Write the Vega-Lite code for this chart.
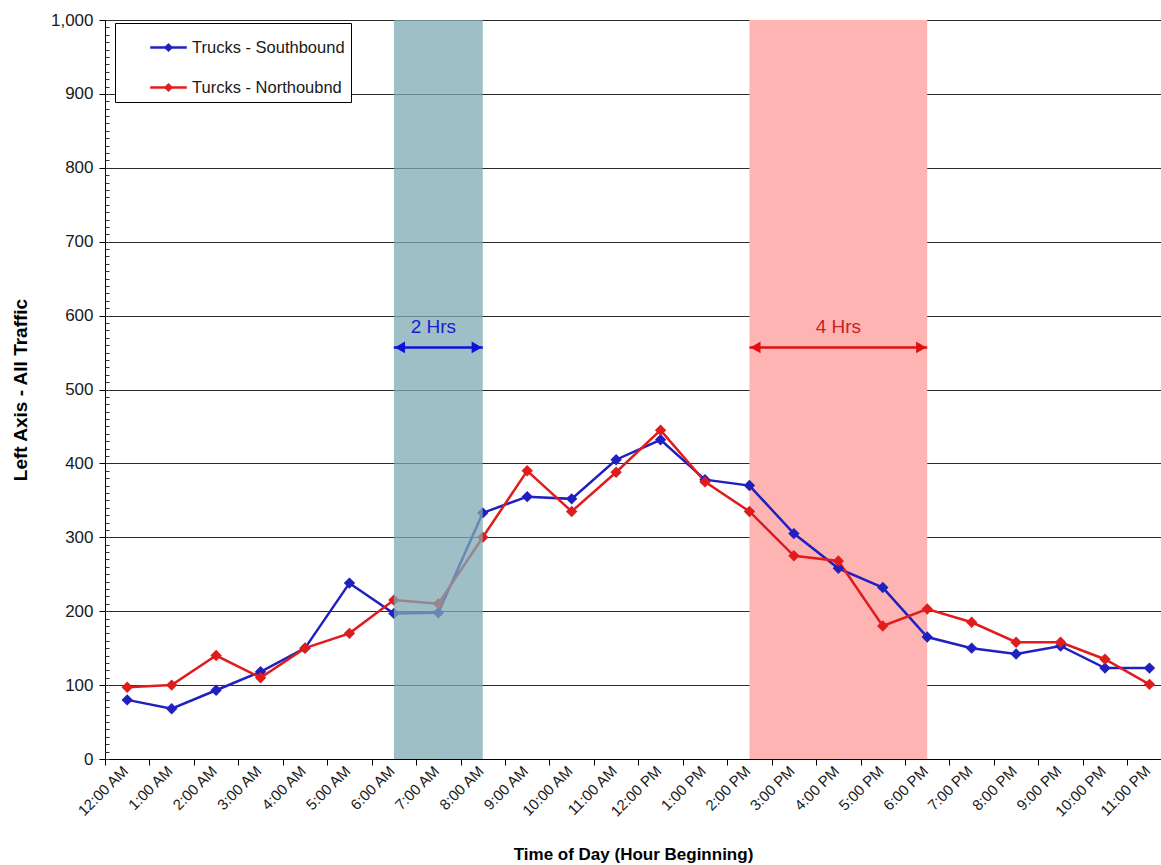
{
  "$schema": "https://vega.github.io/schema/vega-lite/v6.json",
  "width": 1056,
  "height": 739,
  "autosize": {"type": "none"},
  "padding": {"left": 105, "top": 20, "right": 0, "bottom": 106},
  "background": "white",
  "config": {"view": {"stroke": null}, "font": "Liberation Sans"},
  "datasets": {
    "traffic": [
      {"hour": 0, "series": "Trucks - Southbound", "value": 80},
      {"hour": 1, "series": "Trucks - Southbound", "value": 68},
      {"hour": 2, "series": "Trucks - Southbound", "value": 93},
      {"hour": 3, "series": "Trucks - Southbound", "value": 118},
      {"hour": 4, "series": "Trucks - Southbound", "value": 150},
      {"hour": 5, "series": "Trucks - Southbound", "value": 238},
      {"hour": 6, "series": "Trucks - Southbound", "value": 197},
      {"hour": 7, "series": "Trucks - Southbound", "value": 198},
      {"hour": 8, "series": "Trucks - Southbound", "value": 333},
      {"hour": 9, "series": "Trucks - Southbound", "value": 355},
      {"hour": 10, "series": "Trucks - Southbound", "value": 352},
      {"hour": 11, "series": "Trucks - Southbound", "value": 405},
      {"hour": 12, "series": "Trucks - Southbound", "value": 432},
      {"hour": 13, "series": "Trucks - Southbound", "value": 378},
      {"hour": 14, "series": "Trucks - Southbound", "value": 370},
      {"hour": 15, "series": "Trucks - Southbound", "value": 305},
      {"hour": 16, "series": "Trucks - Southbound", "value": 258},
      {"hour": 17, "series": "Trucks - Southbound", "value": 232},
      {"hour": 18, "series": "Trucks - Southbound", "value": 165},
      {"hour": 19, "series": "Trucks - Southbound", "value": 150},
      {"hour": 20, "series": "Trucks - Southbound", "value": 142},
      {"hour": 21, "series": "Trucks - Southbound", "value": 153},
      {"hour": 22, "series": "Trucks - Southbound", "value": 123},
      {"hour": 23, "series": "Trucks - Southbound", "value": 123},
      {"hour": 0, "series": "Turcks - Northoubnd", "value": 97},
      {"hour": 1, "series": "Turcks - Northoubnd", "value": 100},
      {"hour": 2, "series": "Turcks - Northoubnd", "value": 140},
      {"hour": 3, "series": "Turcks - Northoubnd", "value": 110},
      {"hour": 4, "series": "Turcks - Northoubnd", "value": 150},
      {"hour": 5, "series": "Turcks - Northoubnd", "value": 170},
      {"hour": 6, "series": "Turcks - Northoubnd", "value": 215},
      {"hour": 7, "series": "Turcks - Northoubnd", "value": 210},
      {"hour": 8, "series": "Turcks - Northoubnd", "value": 300},
      {"hour": 9, "series": "Turcks - Northoubnd", "value": 390},
      {"hour": 10, "series": "Turcks - Northoubnd", "value": 335},
      {"hour": 11, "series": "Turcks - Northoubnd", "value": 388},
      {"hour": 12, "series": "Turcks - Northoubnd", "value": 445},
      {"hour": 13, "series": "Turcks - Northoubnd", "value": 375},
      {"hour": 14, "series": "Turcks - Northoubnd", "value": 335},
      {"hour": 15, "series": "Turcks - Northoubnd", "value": 275},
      {"hour": 16, "series": "Turcks - Northoubnd", "value": 268},
      {"hour": 17, "series": "Turcks - Northoubnd", "value": 180},
      {"hour": 18, "series": "Turcks - Northoubnd", "value": 203},
      {"hour": 19, "series": "Turcks - Northoubnd", "value": 185},
      {"hour": 20, "series": "Turcks - Northoubnd", "value": 158},
      {"hour": 21, "series": "Turcks - Northoubnd", "value": 158},
      {"hour": 22, "series": "Turcks - Northoubnd", "value": 135},
      {"hour": 23, "series": "Turcks - Northoubnd", "value": 101}
    ],
    "am_band": [{"hour": 6, "hour_end": 8}],
    "pm_band": [{"hour": 14, "hour_end": 18}],
    "am_arrow": [{"hour": 6, "hour_end": 8, "value": 557}],
    "pm_arrow": [{"hour": 14, "hour_end": 18, "value": 557}],
    "am_heads": [{"hour": 6, "value": 557, "end": "left"}, {"hour": 8, "value": 557, "end": "right"}],
    "pm_heads": [{"hour": 14, "value": 557, "end": "left"}, {"hour": 18, "value": 557, "end": "right"}],
    "am_label": [{"hour": 7, "value": 584, "label": "2 Hrs"}],
    "pm_label": [{"hour": 16, "value": 584, "label": "4 Hrs"}]
  },
  "encoding": {
    "x": {
      "field": "hour",
      "type": "quantitative",
      "scale": {"domain": [-0.5, 23.26], "nice": false, "zero": false},
      "axis": {
        "title": "Time of Day (Hour Beginning)",
        "values": [-0.5, 0.5, 1.5, 2.5, 3.5, 4.5, 5.5, 6.5, 7.5, 8.5, 9.5, 10.5, 11.5, 12.5, 13.5, 14.5, 15.5, 16.5, 17.5, 18.5, 19.5, 20.5, 21.5, 22.5],
        "labelExpr": "(datum.value+0.5)==0 ? '12:00 AM' : (datum.value+0.5)<12 ? (datum.value+0.5)+':00 AM' : (datum.value+0.5)==12 ? '12:00 PM' : (datum.value+0.5-12)+':00 PM'",
        "labelAngle": -45,
        "labelAlign": "right",
        "labelBaseline": "middle",
        "labelOffset": 20,
        "labelPadding": 3,
        "labelFontSize": 15,
        "labelColor": "#1a1a1a",
        "labelOverlap": false,
        "labelFlush": false,
        "labelBound": false,
        "grid": false,
        "tickSize": 6,
        "tickColor": "black",
        "domainColor": "black",
        "titleFontSize": 17,
        "titleFontWeight": "bold",
        "titleColor": "black",
        "titlePadding": 27
      }
    }
  },
  "layer": [
    {
      "data": {"name": "pm_band"},
      "mark": {"type": "rect", "color": "#ffb4b4"},
      "encoding": {"x2": {"field": "hour_end"}}
    },
    {
      "data": {"name": "traffic"},
      "mark": {"type": "line", "strokeWidth": 2.5},
      "encoding": {
        "y": {
          "field": "value",
          "type": "quantitative",
          "scale": {"domain": [0, 1000], "nice": false},
          "axis": {
            "title": "Left Axis - All Traffic",
            "values": [0, 100, 200, 300, 400, 500, 600, 700, 800, 900, 1000],
            "format": ",.0f",
            "grid": true,
            "gridColor": "#2a2a2a",
            "gridWidth": 1,
            "tickSize": 6,
            "tickColor": "black",
            "domainColor": "black",
            "labelFontSize": 17,
            "labelColor": "#1a1a1a",
            "labelPadding": 6,
            "titleFontSize": 19,
            "titleFontWeight": "bold",
            "titleColor": "black",
            "titlePadding": 20
          }
        },
        "color": {
          "field": "series",
          "type": "nominal",
          "scale": {"domain": ["Trucks - Southbound", "Turcks - Northoubnd"], "range": ["#2020c0", "#e01c1c"]}
        }
      }
    },
    {
      "data": {"name": "traffic"},
      "mark": {"type": "point", "shape": "diamond", "filled": true, "opacity": 1, "size": 130},
      "encoding": {
        "y": {"field": "value", "type": "quantitative", "axis": null},
        "color": {
          "field": "series",
          "type": "nominal",
          "legend": {
            "title": null,
            "orient": "none",
            "legendX": 10,
            "legendY": 3,
            "strokeColor": "black",
            "fillColor": "white",
            "padding": 6,
            "symbolType": "M-1,-0.06H1V0.06H-1Z M0,-0.24L0.24,0L0,0.24L-0.24,0Z",
            "symbolSize": 1300,
            "symbolOffset": 29,
            "symbolStrokeWidth": 0.5,
            "symbolOpacity": 1,
            "labelFontSize": 16.5,
            "labelColor": "#1a1a1a",
            "labelOffset": 5,
            "rowPadding": 13
          }
        }
      }
    },
    {
      "data": {"name": "am_band"},
      "mark": {"type": "rect", "color": "#7fa9b4", "opacity": 0.75},
      "encoding": {"x2": {"field": "hour_end"}}
    },
    {
      "data": {"name": "am_arrow"},
      "mark": {"type": "rule", "color": "#1010d8", "strokeWidth": 2.5},
      "encoding": {
        "x2": {"field": "hour_end"},
        "y": {
          "field": "value",
          "type": "quantitative",
          "axis": {"orient": "left", "tickCount": 100, "labels": false, "grid": false, "domain": false, "tickSize": 4, "offset": -4, "tickColor": "#333", "title": null}
        }
      }
    },
    {
      "data": {"name": "pm_arrow"},
      "mark": {"type": "rule", "color": "#e01010", "strokeWidth": 2.5},
      "encoding": {"x2": {"field": "hour_end"}, "y": {"field": "value", "type": "quantitative", "axis": null}}
    },
    {
      "data": {"name": "am_heads"},
      "transform": [{"filter": "datum.end == 'left'"}],
      "mark": {"type": "point", "shape": "triangle-left", "filled": true, "color": "#1010d8", "size": 140, "xOffset": 6, "opacity": 1},
      "encoding": {"y": {"field": "value", "type": "quantitative", "axis": null}}
    },
    {
      "data": {"name": "am_heads"},
      "transform": [{"filter": "datum.end == 'right'"}],
      "mark": {"type": "point", "shape": "triangle-right", "filled": true, "color": "#1010d8", "size": 140, "xOffset": -6, "opacity": 1},
      "encoding": {"y": {"field": "value", "type": "quantitative", "axis": null}}
    },
    {
      "data": {"name": "pm_heads"},
      "transform": [{"filter": "datum.end == 'left'"}],
      "mark": {"type": "point", "shape": "triangle-left", "filled": true, "color": "#e01010", "size": 140, "xOffset": 6, "opacity": 1},
      "encoding": {"y": {"field": "value", "type": "quantitative", "axis": null}}
    },
    {
      "data": {"name": "pm_heads"},
      "transform": [{"filter": "datum.end == 'right'"}],
      "mark": {"type": "point", "shape": "triangle-right", "filled": true, "color": "#e01010", "size": 140, "xOffset": -6, "opacity": 1},
      "encoding": {"y": {"field": "value", "type": "quantitative", "axis": null}}
    },
    {
      "data": {"name": "am_label"},
      "mark": {"type": "text", "color": "#1a1ad0", "fontSize": 19, "baseline": "middle", "align": "center", "dx": -5},
      "encoding": {"y": {"field": "value", "type": "quantitative", "axis": null}, "text": {"field": "label"}}
    },
    {
      "data": {"name": "pm_label"},
      "mark": {"type": "text", "color": "#cc2020", "fontSize": 19, "baseline": "middle", "align": "center"},
      "encoding": {"y": {"field": "value", "type": "quantitative", "axis": null}, "text": {"field": "label"}}
    }
  ],
  "resolve": {"axis": {"y": "independent"}}
}
